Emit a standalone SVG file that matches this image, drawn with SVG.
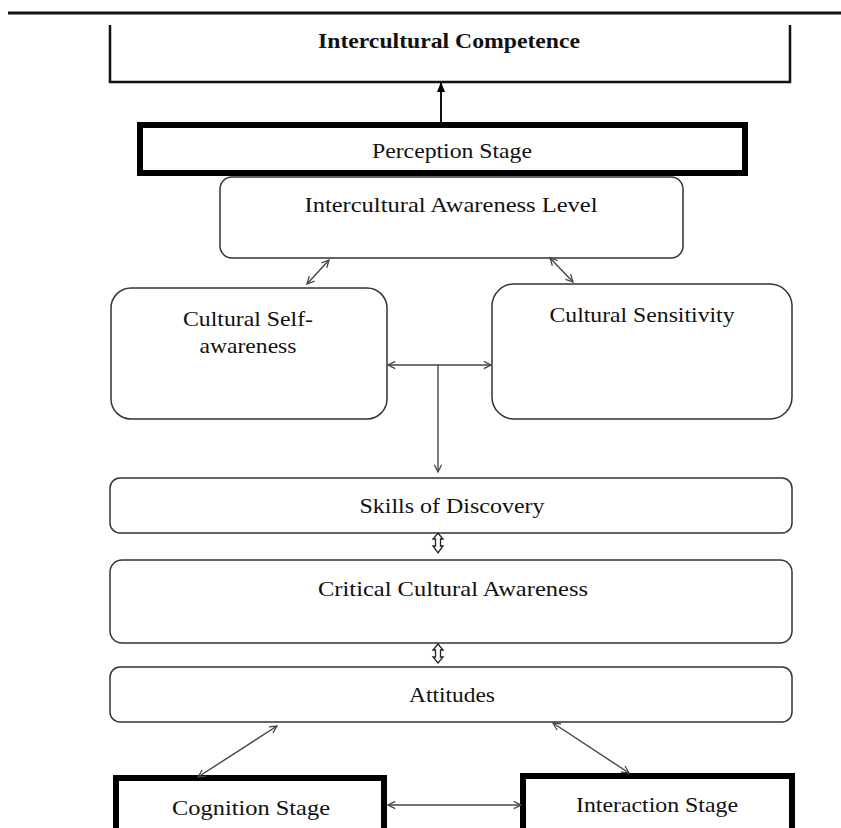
<svg xmlns="http://www.w3.org/2000/svg" width="841" height="828" viewBox="0 0 841 828">
<style>
  .t { font-family: "Liberation Serif", "Times New Roman", serif; font-size: 21px; fill: #111; text-anchor: middle; }
  .b { font-weight: bold; }
  .rr { fill: #fff; stroke: #333; stroke-width: 1.5; }
  .thick { fill: #fff; stroke: #000; stroke-width: 6; }
  .conn { stroke: #444; stroke-width: 1.4; fill: none; }
</style>
<defs>
  <marker id="ah" viewBox="0 0 10 10" refX="9" refY="5" markerWidth="9" markerHeight="9" markerUnits="userSpaceOnUse" orient="auto-start-reverse">
    <path d="M1,1 L9,5 L1,9" fill="none" stroke="#444" stroke-width="1.4"/>
  </marker>
  <marker id="fill" viewBox="0 0 10 10" refX="9" refY="5" markerWidth="10" markerHeight="10" markerUnits="userSpaceOnUse" orient="auto">
    <path d="M0,1 L10,5 L0,9 Z" fill="#000"/>
  </marker>
</defs>
<rect width="841" height="828" fill="#fff"/>
<line x1="8" y1="13" x2="841" y2="13" stroke="#111" stroke-width="3"/>

<g id="competence">
  <path d="M110,25 V82 H790 V25" fill="none" stroke="#111" stroke-width="2.5"/>
  <text class="t b" x="449" y="48" textLength="262" lengthAdjust="spacingAndGlyphs">Intercultural Competence</text>
</g>
<g id="perception">
  <rect class="thick" x="140" y="125" width="605" height="48"/>
  <text class="t" x="452" y="158" textLength="160" lengthAdjust="spacingAndGlyphs">Perception Stage</text>
</g>
<g id="awareness-level">
  <rect class="rr" x="220" y="177" width="463" height="81" rx="12"/>
  <text class="t" x="451" y="212" textLength="293" lengthAdjust="spacingAndGlyphs">Intercultural Awareness Level</text>
</g>
<g id="self-awareness">
  <rect class="rr" x="111" y="288" width="276" height="131" rx="20"/>
  <text class="t" x="248" y="326" textLength="130" lengthAdjust="spacingAndGlyphs">Cultural Self-</text>
  <text class="t" x="248" y="353" textLength="97" lengthAdjust="spacingAndGlyphs">awareness</text>
</g>
<g id="sensitivity">
  <rect class="rr" x="492" y="284" width="300" height="135" rx="22"/>
  <text class="t" x="642" y="322" textLength="185" lengthAdjust="spacingAndGlyphs">Cultural Sensitivity</text>
</g>
<g id="discovery">
  <rect class="rr" x="110" y="478" width="682" height="55" rx="10"/>
  <text class="t" x="452" y="513" textLength="185" lengthAdjust="spacingAndGlyphs">Skills of Discovery</text>
</g>
<g id="critical">
  <rect class="rr" x="110" y="560" width="682" height="83" rx="12"/>
  <text class="t" x="453" y="596" textLength="270" lengthAdjust="spacingAndGlyphs">Critical Cultural Awareness</text>
</g>
<g id="attitudes">
  <rect class="rr" x="110" y="667" width="682" height="55" rx="10"/>
  <text class="t" x="452" y="702" textLength="86" lengthAdjust="spacingAndGlyphs">Attitudes</text>
</g>
<g id="cognition">
  <rect class="thick" x="116" y="778" width="268" height="80"/>
  <text class="t" x="251" y="815" textLength="158" lengthAdjust="spacingAndGlyphs">Cognition Stage</text>
</g>
<g id="interaction">
  <rect class="thick" x="523" y="776" width="269" height="80"/>
  <text class="t" x="657" y="812" textLength="162" lengthAdjust="spacingAndGlyphs">Interaction Stage</text>
</g>

<g id="connectors">
  <line x1="441" y1="122" x2="441" y2="83" stroke="#111" stroke-width="2" marker-end="url(#fill)"/>
  <line class="conn" x1="329" y1="260" x2="307" y2="284" marker-start="url(#ah)" marker-end="url(#ah)"/>
  <line class="conn" x1="550" y1="258" x2="573" y2="282" marker-start="url(#ah)" marker-end="url(#ah)"/>
  <line class="conn" x1="388" y1="365" x2="491" y2="365" marker-start="url(#ah)" marker-end="url(#ah)"/>
  <line class="conn" x1="438" y1="365" x2="438" y2="472" marker-end="url(#ah)"/>
  <polygon points="438,533 443,539 440.5,539 440.5,546 443,546 438,553 433,546 435.5,546 435.5,539 433,539" fill="#fff" stroke="#222" stroke-width="1.3"/>
  <polygon points="438,644 443,650 440.5,650 440.5,657 443,657 438,663 433,657 435.5,657 435.5,650 433,650" fill="#fff" stroke="#222" stroke-width="1.3"/>
  <line class="conn" x1="277" y1="726" x2="198" y2="777" marker-start="url(#ah)" marker-end="url(#ah)"/>
  <line class="conn" x1="553" y1="723" x2="629" y2="773" marker-start="url(#ah)" marker-end="url(#ah)"/>
  <line class="conn" x1="388" y1="805" x2="521" y2="805" marker-start="url(#ah)" marker-end="url(#ah)"/>
</g>
</svg>
